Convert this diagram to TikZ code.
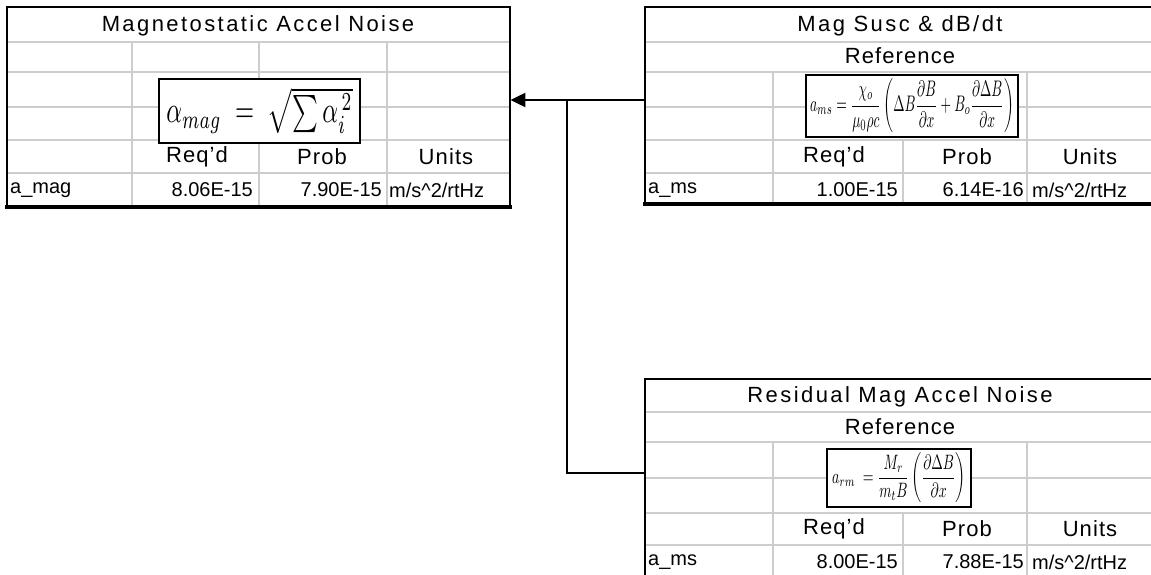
\documentclass[tikz,border=0pt]{standalone}
\usepackage{fontspec}
\setmainfont{Liberation Sans}
\usepackage{amsmath}
\usepackage{graphicx}
\usetikzlibrary{arrows.meta}
\definecolor{gridgray}{RGB}{205,205,205}
\begin{document}
\begin{tikzpicture}[x=1pt,y=-1pt,
  gridline/.style={draw=gridgray, line width=1.6pt},
  borderline/.style={draw=black, line width=2pt},
  thickline/.style={draw=black, line width=3.5pt},
  frame/.style={inner sep=0pt, minimum width=#1, anchor=north west},
  cell/.style={font=\fontsize{20}{24}\selectfont, inner sep=0pt},
  head/.style={font=\fontsize{22}{26}\selectfont\addfontfeature{LetterSpace=5}, inner sep=0pt},
  titletext/.style={font=\fontsize{22}{26}\selectfont\addfontfeature{LetterSpace=11}, inner sep=0pt},
  fbox/.style={draw=black, line width=2pt, fill=white, inner sep=0pt},
  conn/.style={draw=black, line width=2pt}]
\useasboundingbox (0,0) rectangle (1151,575);
\begin{scope}
\clip (0,0) rectangle (1151,575);

% ---------- table frames ----------
\node[frame=503pt, minimum height=200pt] (L) at (7,7) {};
\node[frame=512pt, minimum height=197pt] (R) at (645,7) {};
\node[frame=512pt, minimum height=199pt] (B) at (645,379) {};

% ---------- left table ----------
\foreach \y in {42,72,107,140,173} \draw[gridline] (7,\y) -- (510,\y);
\foreach \x in {132,259,387} \draw[gridline] (\x,42) -- (\x,207);
\draw[borderline] (7,207) -- (7,7) -- (510,7) -- (510,207);
\draw[thickline] (5,207) -- (512,207);

% ---------- right top table ----------
\foreach \y in {42,72,107,140,173} \draw[gridline] (645,\y) -- (1160,\y);
\foreach \x in {773,1027} \draw[gridline] (\x,72) -- (\x,204);
\draw[gridline] (903,140) -- (903,204);
\draw[borderline] (645,204) -- (645,7) -- (1160,7);
\draw[thickline] (643,204) -- (1160,204);

% ---------- bottom right table ----------
\foreach \y in {412,442,478,513,545} \draw[gridline] (645,\y) -- (1160,\y);
\foreach \x in {773,1027} \draw[gridline] (\x,442) -- (\x,580);
\draw[gridline] (903,513) -- (903,580);
\draw[borderline] (645,580) -- (645,379) -- (1160,379);

% ---------- left table text ----------
\node[titletext] (Lt) at (258,26) {Magnetostatic Accel Noise};
\node[head] (Lr) at (197,157) {Req'd};
\node[head] (Lp) at (322,157) {Prob};
\node[head] (Lu) at (446,157) {Units};
\node[cell, anchor=west] (Ln) at (10,190) {a\_mag};
\node[cell, anchor=east] (Lv1) at (253,190) {8.06E-15};
\node[cell, anchor=east] (Lv2) at (382,190) {7.90E-15};
\node[cell, anchor=west] (Lv3) at (389,190) {m/s\textasciicircum 2/rtHz};

% ---------- right top table text ----------
\node[titletext] (Rt) at (900,26) {Mag Susc \& dB/dt};
\node[head] (Rref) at (900,56) {Reference};
\node[head] (Rr) at (834,157) {Req'd};
\node[head] (Rp) at (967,157) {Prob};
\node[head] (Ru) at (1090,157) {Units};
\node[cell, anchor=west] (Rn) at (648,190) {a\_ms};
\node[cell, anchor=east] (Rv1) at (898,190) {1.00E-15};
\node[cell, anchor=east] (Rv2) at (1024,190) {6.14E-16};
\node[cell, anchor=west] (Rv3) at (1032,190) {m/s\textasciicircum 2/rtHz};

% ---------- bottom right table text ----------
\node[titletext] (Bt) at (900,397) {Residual Mag Accel Noise};
\node[head] (Bref) at (900,427) {Reference};
\node[head] (Br) at (834,529) {Req'd};
\node[head] (Bp) at (967,529) {Prob};
\node[head] (Bu) at (1090,529) {Units};
\node[cell, anchor=west] (Bn) at (648,562) {a\_ms};
\node[cell, anchor=east] (Bv1) at (898,562) {8.00E-15};
\node[cell, anchor=east] (Bv2) at (1024,562) {7.88E-15};
\node[cell, anchor=west] (Bv3) at (1032,562) {m/s\textasciicircum 2/rtHz};

% ---------- formula boxes ----------
\node[fbox, minimum width=201pt, minimum height=64pt] (Lf) at (259.5,111)
  {\resizebox*{186pt}{46pt}{$\alpha_{mag} \;=\; \sqrt{\sum \alpha_i^{\,2}}$}};
\node[fbox, minimum width=212pt, minimum height=62pt] (Rf) at (912,106)
  {\resizebox*{204pt}{54pt}{$a_{ms}=\dfrac{\chi_o}{\mu_0\rho c}\left(\Delta B\dfrac{\partial B}{\partial x}+B_o\dfrac{\partial\Delta B}{\partial x}\right)$}};
\node[fbox, minimum width=144pt, minimum height=58pt] (Bf) at (899,478)
  {\resizebox*{134pt}{50pt}{$a_{rm}\;=\dfrac{M_r}{m_t B}\left(\dfrac{\partial\Delta B}{\partial x}\right)$}};

% ---------- connectors ----------
\coordinate (jn) at (567,100);
\coordinate (bj) at (567,473);
\draw[conn, -{Triangle[length=15pt,width=14pt]}] (R.west |- jn) -- (L.east |- jn);
\draw[conn] (jn) -- (bj) -- (B.west |- bj);
\end{scope}
\end{tikzpicture}
\end{document}
